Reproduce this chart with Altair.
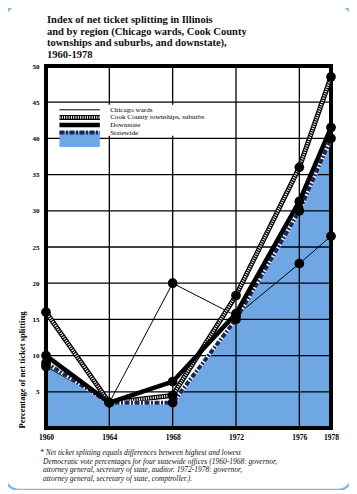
import altair as alt
import pandas as pd

years = [1960, 1964, 1968, 1972, 1976, 1978]
chicago = [8.5, 3.5, 20.0, 15.5, 22.7, 26.5]
cook = [16.0, 3.5, 4.5, 18.3, 36.0, 48.5]
downstate = [10.0, 3.5, 6.4, 15.8, 31.3, 41.5]
statewide = [9.0, 3.5, 3.5, 15.0, 30.0, 40.0]

series_names = ["Chicago wards", "Cook County townships, suburbs", "Downstate", "Statewide"]
y_ticks = [5, 10, 15, 20, 25, 30, 35, 40, 45, 50]
x_ticks = [1960, 1964, 1968, 1972, 1976, 1978]
grid_y = [5, 10, 15, 20, 25, 30, 35, 40, 45]
grid_x = [1964, 1968, 1972, 1976]

title_lines = [
    "Index of net ticket splitting in Illinois",
    "and by region (Chicago wards, Cook County",
    "townships and suburbs, and downstate),",
    "1960-1978",
]
foot_first = "* Net ticket splitting equals differences between highest and lowest"
foot_rest = [
    "Democratic vote percentages for four statewide offices (1960-1968: governor,",
    "attorney general, secretary of state, auditor. 1972-1978: governor,",
    "attorney general, secretary of state, comptroller.).",
]

# legend placement in data units
leg_x0, leg_x1, leg_label_x = 1960.85, 1963.4, 1964.05
leg_y = [43.95, 42.9, 41.85, 40.8]
leg_fill = [38.8, 41.0]
leg_box = [1960.2, 1970.6, 40.35, 44.65]

W, H = 285, 362
SERIF = "Liberation Serif"
BLUE = "#6fa6e4"
NAVY = "#16285c"

rows = []
for name, vals in zip(series_names, [chicago, cook, downstate, statewide]):
    for yr, v in zip(years, vals):
        rows.append({"series": name, "year": yr, "value": v})
df = pd.DataFrame(rows)

xs = alt.Scale(domain=[1960, 1978], nice=False, zero=False)
ys = alt.Scale(domain=[0, 50], nice=False)

X = alt.X("year:Q", scale=xs, axis=alt.Axis(
    values=x_ticks, format="d", title=None, grid=False, ticks=False, domain=False,
    labelFont=SERIF, labelFontWeight="bold", labelFontSize=7.5, labelColor="black",
    labelPadding=5, labelFlush=False))
Y = alt.Y("value:Q", scale=ys, axis=alt.Axis(
    values=y_ticks, title="Percentage of net ticket splitting", grid=False, ticks=False,
    domain=False, labelFont=SERIF, labelFontWeight="bold", labelFontSize=7,
    labelColor="black", labelPadding=7, titleFont=SERIF, titleFontWeight="bold",
    titleFontSize=8.5, titleColor="black", titleAnchor="start", titlePadding=6))

base = alt.Chart(df)

def sel(name):
    return base.transform_filter(alt.datum.series == name)

one = pd.DataFrame({"k": [0]})

area = sel("Statewide").mark_area(color=BLUE, opacity=1).encode(x=X, y=Y)

gy = alt.Chart(pd.DataFrame({"value": grid_y})).mark_rule(color="black", strokeWidth=1.3).encode(
    y=alt.Y("value:Q", scale=ys))
gx = alt.Chart(pd.DataFrame({"year": grid_x})).mark_rule(color="black", strokeWidth=1.3).encode(
    x=alt.X("year:Q", scale=xs))

frame = alt.Chart(one).mark_rect(
    filled=False, stroke="black", strokeWidth=4).encode(
    x=alt.value(0), x2=alt.value(W), y=alt.value(0), y2=alt.value(H))

border = alt.Chart(one).mark_rect(
    filled=False, stroke="#86b6ea", strokeWidth=2.5, cornerRadius=14).encode(
    x=alt.value(-41), x2=alt.value(306), y=alt.value(-61), y2=alt.value(424))

title = alt.Chart(one).mark_text(
    text=title_lines, align="left", baseline="top", font=SERIF, fontSize=10.5,
    fontWeight="bold", lineHeight=11.6, color="#111").encode(
    x=alt.value(1), y=alt.value(-51))

chi_line = sel("Chicago wards").mark_line(color="black", strokeWidth=1).encode(x=X, y=Y)
cook_a = sel("Cook County townships, suburbs").mark_line(color="black", strokeWidth=5).encode(x=X, y=Y)
cook_b = sel("Cook County townships, suburbs").mark_line(
    color="white", strokeWidth=2.6, strokeDash=[1, 1.3]).encode(x=X, y=Y)
down_line = sel("Downstate").mark_line(color="black", strokeWidth=4.5).encode(x=X, y=Y)
st_a = sel("Statewide").mark_line(color="white", strokeWidth=4).encode(x=X, y=Y)
st_b = sel("Statewide").mark_line(color=NAVY, strokeWidth=4, strokeDash=[5, 1.5, 2, 1.5]).encode(x=X, y=Y)

points = base.mark_circle(color="black", opacity=1, size=95).encode(x=X, y=Y)

# legend
leg = pd.DataFrame({"series": series_names, "value": leg_y,
                    "x0": [leg_x0] * 4, "x1": [leg_x1] * 4, "lx": [leg_label_x] * 4})
lb = alt.Chart(leg)
def lsel(name):
    return lb.transform_filter(alt.datum.series == name)
LX = alt.X("x0:Q", scale=xs)
LY = alt.Y("value:Q", scale=ys)
leg_bg = alt.Chart(pd.DataFrame({"x0": [leg_box[0]], "x1": [leg_box[1]],
                                  "y0": [leg_box[2]], "y1": [leg_box[3]]})).mark_rect(
    color="white", opacity=1).encode(x=alt.X("x0:Q", scale=xs), x2="x1:Q",
                                     y=alt.Y("y0:Q", scale=ys), y2="y1:Q")
leg_fill_rect = alt.Chart(pd.DataFrame({"x0": [leg_x0], "x1": [leg_x1],
                                         "y0": [leg_fill[0]], "y1": [leg_fill[1]]})).mark_rect(
    color=BLUE, opacity=1).encode(x=alt.X("x0:Q", scale=xs), x2="x1:Q",
                                  y=alt.Y("y0:Q", scale=ys), y2="y1:Q")
l_chi = lsel("Chicago wards").mark_rule(color="black", strokeWidth=1).encode(x=LX, x2="x1:Q", y=LY)
l_cook_a = lsel("Cook County townships, suburbs").mark_rule(color="black", strokeWidth=5).encode(x=LX, x2="x1:Q", y=LY)
l_cook_b = lsel("Cook County townships, suburbs").mark_rule(color="white", strokeWidth=2.6, strokeDash=[1, 1.3]).encode(x=LX, x2="x1:Q", y=LY)
l_down = lsel("Downstate").mark_rule(color="black", strokeWidth=4.5).encode(x=LX, x2="x1:Q", y=LY)
l_st = lsel("Statewide").mark_rule(color=NAVY, strokeWidth=4, strokeDash=[5, 1.5, 2, 1.5]).encode(x=LX, x2="x1:Q", y=LY)
l_text = lb.mark_text(align="left", baseline="middle", font=SERIF, fontSize=7.1, color="black").encode(
    x=alt.X("lx:Q", scale=xs), y=LY, text="series:N")

foot1 = alt.Chart(one).mark_text(
    text=foot_first, align="left", baseline="middle", font=SERIF, fontStyle="italic",
    fontSize=7.5, color="#111").encode(x=alt.value(-6), y=alt.value(H + 25))
foot2 = alt.Chart(one).mark_text(
    text=foot_rest, align="left", baseline="middle", font=SERIF, fontStyle="italic",
    fontSize=7.5, lineHeight=8.7, color="#111").encode(x=alt.value(-3), y=alt.value(H + 33.7))

chart = alt.layer(
    border, title, area, gy, gx, leg_bg, frame, leg_fill_rect,
    chi_line, cook_a, cook_b, st_a, st_b, down_line, points,
    l_chi, l_cook_a, l_cook_b, l_down, l_st, l_text, foot1, foot2,
).properties(
    width=W, height=H,
    autosize=alt.AutoSizeParams(type="none"),
    padding={"left": 38, "top": 58, "right": 18, "bottom": 62},
).configure_view(stroke=None).configure(background="white")

chart.save("out.html", embed_options={"renderer": "svg", "actions": False})
